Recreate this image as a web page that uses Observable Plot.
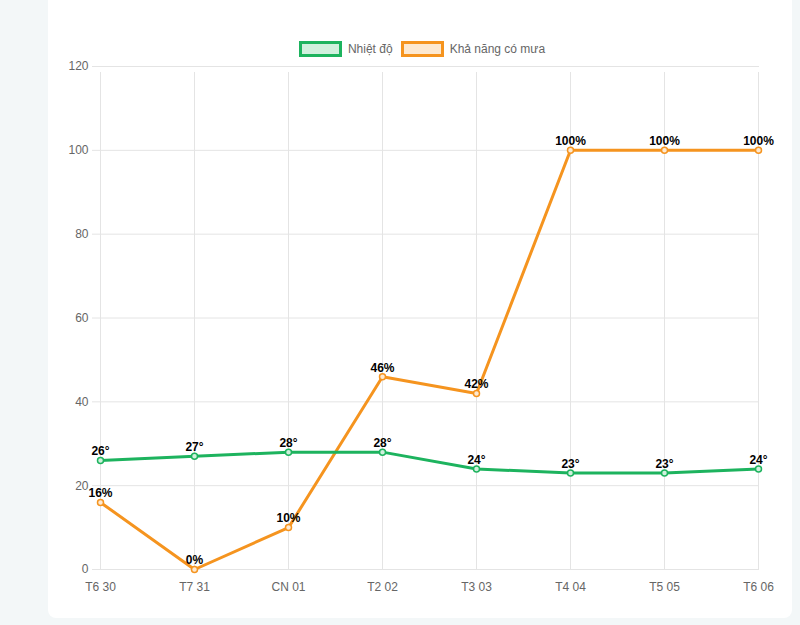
<!DOCTYPE html>
<html>
<head>
<meta charset="utf-8">
<script src="https://cdn.jsdelivr.net/npm/d3@7"></script>
<script src="https://cdn.jsdelivr.net/npm/@observablehq/plot@0.6"></script>
<style>
  html, body { margin: 0; padding: 0; }
  body { width: 800px; height: 625px; background: #f3f7f8; position: relative; overflow: hidden; font-family: "Liberation Sans", Arial, sans-serif; }
  #card { position: absolute; left: 48px; top: -20px; width: 744px; height: 638px; background: #fff; border-radius: 8px; }
  #legend { position: absolute; top: 41px; left: 0; width: 800px; display: flex; justify-content: center; gap: 8px; font-size: 12px; color: #666; padding-left: 44px; box-sizing: border-box; }
  .item { display: flex; align-items: center; gap: 6px; }
  .sw { width: 37px; height: 10px; border-width: 3px; border-style: solid; }
  #chart { position: absolute; left: 0; top: 0; }
</style>
</head>
<body>
<div id="card"></div>
<div id="legend">
  <div class="item"><span class="sw" style="border-color:#1db35e;background:#d0f0dd"></span><span>Nhiệt độ</span></div>
  <div class="item"><span class="sw" style="border-color:#f5941f;background:#fde9d1"></span><span>Khả năng có mưa</span></div>
</div>
<div id="chart"></div>
<script>
const days = ["T6 30", "T7 31", "CN 01", "T2 02", "T3 03", "T4 04", "T5 05", "T6 06"];
const temperature = [26, 27, 28, 28, 24, 23, 23, 24];
const rainChance = [16, 0, 10, 46, 42, 100, 100, 100];
const yTicks = [0, 20, 40, 60, 80, 100, 120];

const green = "#1db35e";
const orange = "#f5941f";

const tempData = days.map((d, i) => ({day: d, v: temperature[i], label: temperature[i] + "°"}));
const rainData = days.map((d, i) => ({day: d, v: rainChance[i], label: rainChance[i] + "%"}));

const chart = Plot.plot({
  width: 800,
  height: 625,
  marginLeft: 99,
  marginRight: 41,
  marginTop: 66,
  marginBottom: 56,
  style: {background: "transparent", fontFamily: "Liberation Sans, Arial, sans-serif"},
  x: {type: "point", domain: days, padding: 0, label: null},
  y: {type: "linear", domain: [0, 120], label: null},
  marks: [
    Plot.ruleY(yTicks, {y: d => d, insetLeft: -7, stroke: "#e4e4e4", strokeWidth: 1}),
    Plot.ruleX(days, {x: d => d, y1: 0, y2: 120, insetBottom: -6, stroke: "#e4e4e4", strokeWidth: 1}),
    Plot.axisY({ticks: yTicks, tickSize: 0, tickPadding: 11, fontSize: 12, color: "#666", tickFormat: d => d, stroke: "none"}),
    Plot.axisX({tickSize: 0, tickPadding: 13, fontSize: 12, color: "#666", stroke: "none"}),
    Plot.line(rainData, {x: "day", y: "v", stroke: orange, strokeWidth: 3}),
    Plot.line(tempData, {x: "day", y: "v", stroke: green, strokeWidth: 3}),
    Plot.dot(rainData, {x: "day", y: "v", r: 3, stroke: orange, fill: "#fde9d1", strokeWidth: 1.5}),
    Plot.dot(tempData, {x: "day", y: "v", r: 3, stroke: green, fill: "#d0f0dd", strokeWidth: 1.5}),
    Plot.text(rainData, {x: "day", y: "v", text: "label", dy: -9, fontSize: 12, fontWeight: "bold", fill: "#000"}),
    Plot.text(tempData, {x: "day", y: "v", text: "label", dy: -9, fontSize: 12, fontWeight: "bold", fill: "#000"})
  ]
});
document.getElementById("chart").appendChild(chart);
</script>
</body>
</html>
